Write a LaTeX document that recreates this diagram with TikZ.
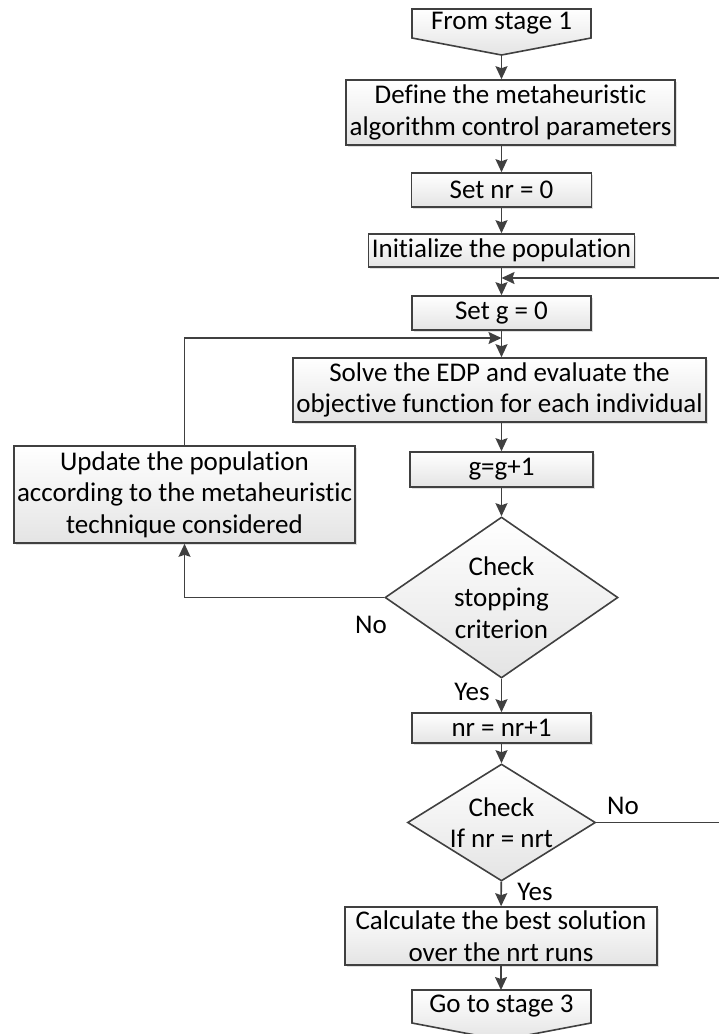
\documentclass[tikz,border=0pt]{standalone}
\usepackage{fontspec}
\setmainfont{Carlito}[Ligatures=NoCommon]
\usetikzlibrary{arrows.meta,shapes.geometric,shadows}
\definecolor{linegray}{HTML}{404040}
\definecolor{boxgray}{HTML}{E4E4E4}

\begin{document}
\begin{tikzpicture}[x=1pt, y=-1pt, font=\fontsize{27}{31.5}\selectfont,
  box/.style={draw=linegray, line width=1.6pt, top color=white, bottom color=boxgray,
    drop shadow={shadow xshift=1.5pt, shadow yshift=-1.5pt, opacity=0.25},
    inner sep=0pt, align=center},
  decision/.style={diamond, draw=linegray, line width=1.6pt, top color=white,
    bottom color=boxgray, inner sep=0pt},
  offpage/.style={draw=linegray, line width=1.6pt, top color=white, bottom color=boxgray},
  flow/.style={draw=linegray, line width=1.6pt, -{Stealth[length=13pt,width=12pt,inset=2pt]}},
  tag/.style={inner sep=0pt}]

\useasboundingbox (0,0) rectangle (719,1034);

% --- Entry from stage 1 ---
\coordinate (starttip) at (501.5,55);
\draw[offpage] (412,9) -- (412,38) -- (starttip) -- (591,38) -- (591,9) -- cycle;
\node (start) at (501.5,23.5) {From stage 1};

% --- Set up ---
\node[box, minimum width=329, minimum height=65] (define) at (510.5,112.5)
  {Define the metaheuristic\\algorithm control parameters};
\node[box, minimum width=180, minimum height=34] (setnr) at (501.5,190) {Set nr = 0};
\node[box, minimum width=266, minimum height=33] (init) at (501.5,250.5) {Initialize the population};
\node[box, minimum width=179, minimum height=34] (setg) at (501.5,313) {Set g = 0};
\coordinate (joinA) at (501.5,278);
\coordinate (joinB) at (501.5,338);

% --- Generation loop ---
\node[box, minimum width=413, minimum height=64] (solve) at (499.5,390)
  {Solve the EDP and evaluate the\\objective function for each individual};
\node[box, minimum width=183, minimum height=35] (ginc) at (501.5,469.5) {g=g+1};
\node[decision, minimum width=233, minimum height=161,
  label={[align=center]center:Check\\stopping\\criterion}] (stopchk) at (501.5,597.5) {};
\node[box, minimum width=341, minimum height=97] (update) at (184.5,494.5)
  {Update the population\\according to the metaheuristic\\technique considered};

% --- Runs loop ---
\node[box, minimum width=179, minimum height=30] (nrinc) at (501.5,728) {nr = nr+1};
\node[decision, minimum width=188, minimum height=117,
  label={[align=center]center:Check\\If nr = nrt}] (nrchk) at (501.5,822.5) {};
\node[box, minimum width=312, minimum height=58] (best) at (501,936)
  {Calculate the best solution\\over the nrt runs};

% --- Exit to stage 3 ---
\coordinate (endtip) at (501.5,1040);
\draw[offpage] (412,990) -- (412,1023) -- (endtip) -- (591,1023) -- (591,990) -- cycle;
\node (finish) at (501.5,1006.5) {Go to stage 3};

% --- Connectors ---
\draw[flow] (starttip) -- (starttip |- define.north);
\draw[flow] (define.south -| setnr) -- (setnr);
\draw[flow] (setnr) -- (init);
\draw[flow] (init) -- (setg);
\draw[flow] (setg) -- (setg |- solve.north);
\draw[flow] (solve.south -| ginc) -- (ginc);
\draw[flow] (ginc) -- (stopchk);
\draw[flow] (stopchk.west) -| (update.south);
\draw[flow] (update.north) |- (joinB);
\draw[flow] (stopchk) -- (nrinc);
\draw[flow] (nrinc) -- (nrchk);
\draw[flow] (nrchk.east) -- (730,822.5) |- (joinA);
\draw[flow] (nrchk) -- (best);
\draw[flow] (best) -- (best |- 0,990);

% --- Branch labels ---
\node[tag] (noA) at (371,625) {No};
\node[tag] (yesA) at (472,692) {Yes};
\node[tag] (noB) at (623,806) {No};
\node[tag] (yesB) at (535,892) {Yes};

\end{tikzpicture}
\end{document}
